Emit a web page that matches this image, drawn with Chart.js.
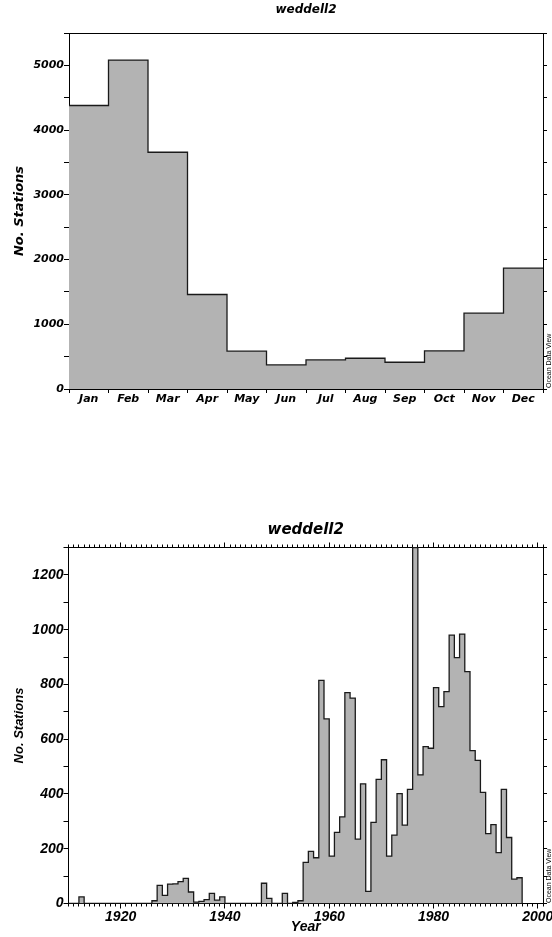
<!DOCTYPE html>
<html>
<head>
<meta charset="utf-8">
<script src="https://cdn.jsdelivr.net/npm/chart.js@4.4.0/dist/chart.umd.min.js"></script>
<style>
html,body{margin:0;padding:0;background:#fff;}
body{width:552px;height:937px;position:relative;overflow:hidden;}
.box{position:absolute;left:0;width:552px;}
#c1box{top:0;height:420px;}
#c2box{top:500px;height:437px;}
.odv{position:absolute;font:7px 'Liberation Sans',Arial,sans-serif;color:#000;white-space:nowrap;transform:rotate(-90deg);transform-origin:left top;line-height:8px;}
</style>
</head>
<body>
<div class="box" id="c1box"><canvas id="c1" width="552" height="420"></canvas></div>
<div class="box" id="c2box"><canvas id="c2" width="552" height="437"></canvas></div>
<div class="odv" style="left:545px;top:388px;">Ocean Data View</div>
<div class="odv" style="left:545px;top:903px;">Ocean Data View</div>
<script>
// ---------- data ----------
const chartTitle = 'weddell2';
const months = ['Jan','Feb','Mar','Apr','May','Jun','Jul','Aug','Sep','Oct','Nov','Dec'];
const monthCounts = [4380, 5082, 3658, 1460, 584, 372, 449, 475, 413, 588, 1172, 1868];

const years = [1910,1911,1912,1913,1914,1915,1916,1917,1918,1919,
               1920,1921,1922,1923,1924,1925,1926,1927,1928,1929,
               1930,1931,1932,1933,1934,1935,1936,1937,1938,1939,
               1940,1941,1942,1943,1944,1945,1946,1947,1948,1949,
               1950,1951,1952,1953,1954,1955,1956,1957,1958,1959,
               1960,1961,1962,1963,1964,1965,1966,1967,1968,1969,
               1970,1971,1972,1973,1974,1975,1976,1977,1978,1979,
               1980,1981,1982,1983,1984,1985,1986,1987,1988,1989,
               1990,1991,1992,1993,1994,1995,1996];
const yearCounts = [0,0,24,0,0,0,0,0,0,0,
                    0,0,0,0,0,0,10,66,30,71,
                    72,80,92,42,5,8,14,37,12,24,
                    0,0,0,0,0,0,0,74,19,0,
                    0,37,0,4,10,150,190,167,815,674,
                    173,260,316,770,750,235,437,44,296,453,
                    525,173,250,401,286,417,1300,470,573,567,
                    788,719,774,980,898,984,847,558,523,406,
                    255,288,186,417,241,89,94];

const yearLabels = [1920, 1940, 1960, 1980, 2000];

// ---------- helpers ----------
Chart.defaults.color = '#000';
const DJ = "'DejaVu Sans', sans-serif";
const LIB = "'Liberation Sans', Arial, sans-serif";
function fnt(family, size){ return {family: family, size: size, style: 'italic', weight: 'bold', lineHeight: 1.2}; }
function fix(size, prop){
  return function(s){ s[prop] = size; s.paddingLeft = 0; s.paddingRight = 0; s.paddingTop = 0; s.paddingBottom = 0; };
}
const tickGrid = (len) => ({display: true, drawOnChartArea: false, drawTicks: true, tickLength: len, color: '#000', lineWidth: 1});
const brd = {display: true, color: '#000', width: 1};
const histStyle = {stepped: 'before', fill: 'origin', backgroundColor: '#b3b3b3', borderColor: '#1a1a1a',
                   borderWidth: 1.3, pointRadius: 0, tension: 0};

// ---------- chart 1: monthly ----------
const pts1 = monthCounts.map((v, i) => ({x: i, y: v}));
pts1.push({x: months.length, y: monthCounts[monthCounts.length - 1]});

new Chart(document.getElementById('c1'), {
  type: 'line',
  data: {labels: months, datasets: [Object.assign({data: pts1, xAxisID: 'xl', yAxisID: 'y'}, histStyle)]},
  options: {
    responsive: false, animation: false, events: [],
    layout: {padding: 0, autoPadding: false},
    plugins: {
      legend: {display: false}, tooltip: {enabled: false},
      title: {display: true, fullSize: false, text: chartTitle, color: '#000', font: fnt(DJ, 12), padding: {top: 3, bottom: 15.6}}
    },
    scales: {
      x: {type: 'category', position: 'bottom', offset: true, weight: 0,
          grid: Object.assign(tickGrid(4), {offset: true}), border: brd,
          ticks: {font: fnt(DJ, 11), padding: 0, maxRotation: 0, autoSkip: false, color: '#000'},
          afterFit: fix(31, 'height')},
      xl: {type: 'linear', display: false, min: 0, max: months.length},
      xt: {type: 'linear', position: 'top', min: 0, max: months.length,
           grid: {display: false}, ticks: {display: false}, border: brd, afterFit: fix(0, 'height')},
      y: {type: 'linear', position: 'left', min: 0, max: 5500,
          ticks: {stepSize: 500, autoSkip: false, padding: 0, font: fnt(DJ, 11), color: '#000',
                  callback: v => (v % 1000 === 0 ? String(v) : '')},
          grid: tickGrid(5), border: brd,
          title: {display: true, text: 'No. Stations', color: '#000', font: fnt(DJ, 13), padding: {top: 12, bottom: 0}},
          afterFit: fix(69, 'width')},
      yr: {type: 'linear', position: 'right', min: 0, max: 5500,
           ticks: {stepSize: 500, display: false}, grid: tickGrid(4), border: brd,
           afterFit: fix(9, 'width')}
    }
  }
});

// ---------- chart 2: yearly ----------
const pts2 = years.map((yr, i) => ({x: yr, y: yearCounts[i]}));
pts2.push({x: years[years.length - 1] + 1, y: 0});
const xMin = 1910, xMax = 2001;

new Chart(document.getElementById('c2'), {
  type: 'line',
  data: {datasets: [Object.assign({data: pts2, xAxisID: 'x', yAxisID: 'y'}, histStyle)]},
  options: {
    responsive: false, animation: false, events: [],
    layout: {padding: 0, autoPadding: false},
    plugins: {
      legend: {display: false}, tooltip: {enabled: false},
      title: {display: true, fullSize: false, text: chartTitle, color: '#000', font: fnt(DJ, 15), padding: {top: 21, bottom: 8.5}}
    },
    scales: {
      xm: {type: 'linear', position: 'bottom', weight: 0, min: xMin, max: xMax,
           ticks: {stepSize: 1, display: false}, grid: tickGrid(3), border: brd, afterFit: fix(0, 'height')},
      x: {type: 'linear', position: 'bottom', weight: 1, min: xMin, max: xMax,
          ticks: {stepSize: 20, includeBounds: false, autoSkip: false, maxRotation: 0, padding: 0,
                  font: fnt(LIB, 14), color: '#000',
                  callback: v => (yearLabels.includes(v) ? String(v) : '')},
          grid: tickGrid(5), border: brd,
          title: {display: true, text: 'Year', color: '#000', font: fnt(LIB, 14), padding: {top: 0, bottom: 1}},
          afterFit: fix(33.5, 'height')},
      xtm: {type: 'linear', position: 'top', weight: 0, min: xMin, max: xMax,
            ticks: {stepSize: 1, display: false}, grid: tickGrid(3), border: brd, afterFit: fix(0, 'height')},
      xtM: {type: 'linear', position: 'top', weight: 1, min: xMin, max: xMax,
            ticks: {stepSize: 20, includeBounds: false, display: false}, grid: tickGrid(5), border: brd,
            afterFit: fix(0, 'height')},
      y: {type: 'linear', position: 'left', min: 0, max: 1300,
          ticks: {stepSize: 100, autoSkip: false, padding: 0, font: fnt(LIB, 14), color: '#000',
                  callback: v => (v % 200 === 0 ? String(v) : '')},
          grid: tickGrid(5), border: brd,
          title: {display: true, text: 'No. Stations', color: '#000', font: fnt(LIB, 13), padding: {top: 12, bottom: 0}},
          afterFit: fix(68.5, 'width')},
      yr: {type: 'linear', position: 'right', min: 0, max: 1300,
           ticks: {stepSize: 100, display: false}, grid: tickGrid(4), border: brd,
           afterFit: fix(9, 'width')}
    }
  }
});
</script>
</body>
</html>
